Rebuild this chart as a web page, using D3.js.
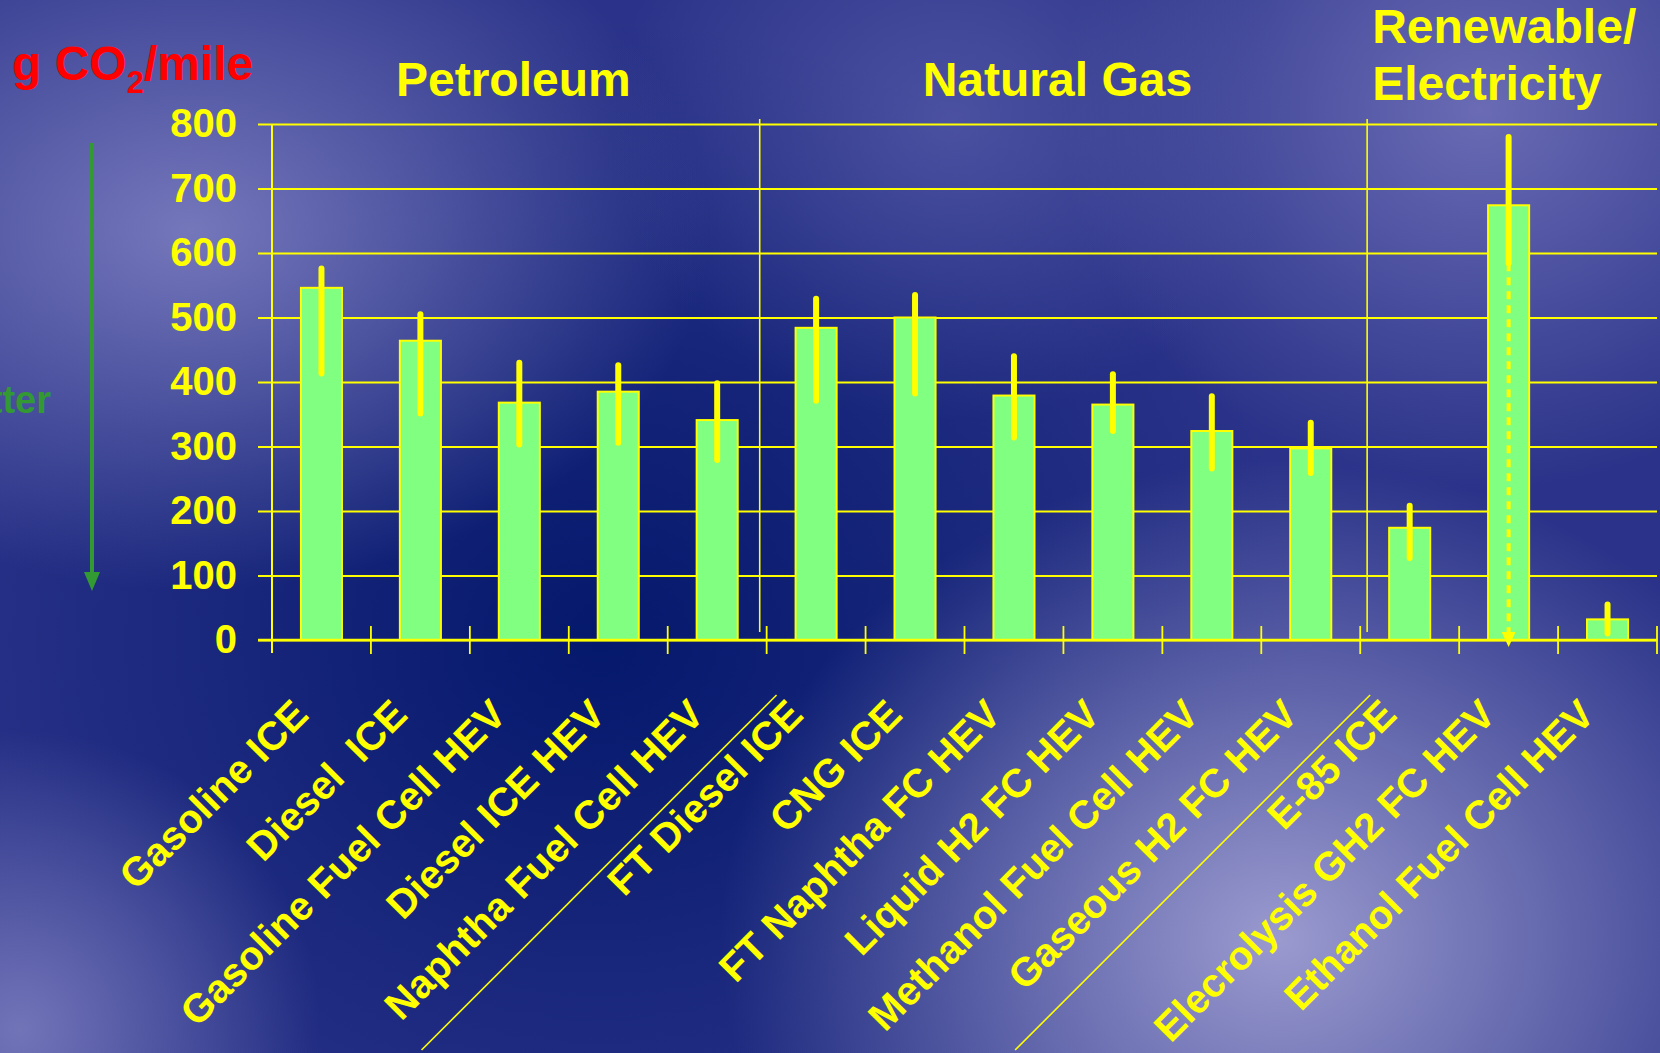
<!DOCTYPE html>
<html>
<head>
<meta charset="utf-8">
<script src="https://cdn.jsdelivr.net/npm/d3@7"></script>
<style>
  html, body { margin: 0; padding: 0; background: #2a3389; }
  svg { display: block; }
  text { font-family: "Liberation Sans", Arial, sans-serif; font-weight: bold; }
</style>
</head>
<body>
<svg id="chart" width="1660" height="1053"></svg>
<script>
// ---------------- DATA ----------------
const categories = [
  "Gasoline ICE", "Diesel  ICE", "Gasoline Fuel Cell HEV", "Diesel ICE HEV",
  "Naphtha Fuel Cell HEV", "FT Diesel ICE", "CNG ICE", "FT Naphtha FC HEV",
  "Liquid H2 FC HEV", "Methanol Fuel Cell HEV", "Gaseous H2 FC HEV", "E-85 ICE",
  "Elecrolysis GH2 FC HEV", "Ethanol Fuel Cell HEV"
];
const values  = [546, 464, 368, 385, 341, 484, 500, 379, 365, 324, 297, 174, 674, 32];
const errLow  = [413, 351, 303, 306, 279, 371, 382, 314, 324, 266, 259, 127, 584, 10];
const errHigh = [576, 505, 430, 426, 398, 529, 535, 440, 412, 378, 337, 208, 780, 55];
// dotted continuation of the error range down to zero (electrolysis)
const dottedExtension = [{ category: "Elecrolysis GH2 FC HEV", from: 584, to: 0 }];
const yTicks = [0, 100, 200, 300, 400, 500, 600, 700, 800];
const groups = [
  { name: ["Petroleum"], first: 0, last: 4 },
  { name: ["Natural Gas"], first: 5, last: 10 },
  { name: ["Renewable/", "Electricity"], first: 11, last: 13 }
];
// group divider positions, in category-band units
const dividers = [4.93, 11.07];
const diagonalStarts = [5.1, 11.1];
const yTitle = { main: "g CO", sub: "2", rest: "/mile" };
const sideNote = "Better";

// ---------------- LAYOUT ----------------
const W = 1660, H = 1053;
const x0 = 272, x1 = 1657, yTop = 124, yBase = 640;
const YEL = "#ffff00";

const svg = d3.select("#chart");
const defs = svg.append("defs");

// background
svg.append("rect").attr("width", W).attr("height", H).attr("fill", "#2a3389");
const blobs = [
  { cx: 600, cy: 640, rx: 700, ry: 620, c: "#04186c", o: 1 },
  { cx: 190, cy: 230, rx: 520, ry: 360, c: "#7577bb", o: 1 },
  { cx: 1480, cy: 110, rx: 420, ry: 380, c: "#6a6bb4", o: 1 },
  { cx: 1280, cy: 940, rx: 560, ry: 480, c: "#9a9acf", o: 1 },
  { cx: 20, cy: 1030, rx: 300, ry: 300, c: "#7274b8", o: 1 },
  { cx: 950, cy: 120, rx: 340, ry: 300, c: "#5a5eab", o: 0.7 }
];
blobs.forEach((b, i) => {
  const g = defs.append("radialGradient").attr("id", "bg" + i);
  g.append("stop").attr("offset", "0%").attr("stop-color", b.c).attr("stop-opacity", b.o);
  g.append("stop").attr("offset", "100%").attr("stop-color", b.c).attr("stop-opacity", 0);
  svg.append("ellipse").attr("cx", b.cx).attr("cy", b.cy).attr("rx", b.rx).attr("ry", b.ry)
    .attr("fill", `url(#bg${i})`);
});

// scales
const x = d3.scaleBand().domain(categories).range([x0, x1]).paddingInner(0.585).paddingOuter(0.2925);
const xu = d3.scaleLinear().domain([0, categories.length]).range([x0, x1]);
const y = d3.scaleLinear().domain([0, 800]).range([yBase, yTop]);
const cx = c => x(c) + x.bandwidth() / 2;

// gridlines + y ticks
const yAxis = d3.axisLeft(y).tickValues(yTicks).tickSize(-(x1 - x0)).tickPadding(35).tickSizeOuter(0);
const gy = svg.append("g").attr("transform", `translate(${x0},0)`).call(yAxis);
gy.select(".domain").remove();
gy.selectAll(".tick line").attr("stroke", YEL).attr("stroke-width", 2.2).attr("x1", -14);
gy.selectAll(".tick text").attr("fill", YEL).attr("font-size", 40)
  .attr("font-family", "'Liberation Sans', Arial, sans-serif").attr("font-weight", "bold")
  .attr("x", -35);

// y axis line
svg.append("line").attr("x1", x0).attr("x2", x0).attr("y1", yTop).attr("y2", yBase + 13)
  .attr("stroke", YEL).attr("stroke-width", 2);

// group dividers
svg.selectAll(".divider").data(dividers).enter().append("line")
  .attr("x1", d => xu(d)).attr("x2", d => xu(d)).attr("y1", yTop - 5).attr("y2", yBase - 8)
  .attr("stroke", YEL).attr("stroke-width", 1.6);

// bars
svg.selectAll(".bar").data(categories).enter().append("rect")
  .attr("x", c => x(c)).attr("width", x.bandwidth())
  .attr("y", (c, i) => y(values[i])).attr("height", (c, i) => y(0) - y(values[i]))
  .attr("fill", "#80ff80").attr("stroke", YEL).attr("stroke-width", 2);

// x axis with ticks at band boundaries
const boundaries = d3.range(0, categories.length + 1);
svg.append("line").attr("x1", x0 - 14).attr("x2", x1).attr("y1", yBase).attr("y2", yBase)
  .attr("stroke", YEL).attr("stroke-width", 2.4);
svg.selectAll(".xtick").data(boundaries.slice(1)).enter().append("line")
  .attr("x1", d => xu(d)).attr("x2", d => xu(d)).attr("y1", yBase - 14).attr("y2", yBase + 14)
  .attr("stroke", YEL).attr("stroke-width", 1.8);

// error bars
svg.selectAll(".err").data(categories).enter().append("line")
  .attr("x1", c => cx(c)).attr("x2", c => cx(c))
  .attr("y1", (c, i) => y(errHigh[i])).attr("y2", (c, i) => y(errLow[i]))
  .attr("stroke", YEL).attr("stroke-width", 6).attr("stroke-linecap", "round");

// dotted extension with arrow
dottedExtension.forEach(d => {
  const xc = cx(d.category);
  svg.append("line").attr("x1", xc).attr("x2", xc).attr("y1", y(d.from)).attr("y2", y(d.to) - 6)
    .attr("stroke", YEL).attr("stroke-width", 4).attr("stroke-dasharray", "8,6");
  svg.append("path")
    .attr("d", `M${xc - 7},${y(d.to) - 8} L${xc + 7},${y(d.to) - 8} L${xc},${y(d.to) + 7} Z`)
    .attr("fill", YEL);
});

// category labels
svg.selectAll(".xlab").data(categories).enter().append("text")
  .attr("transform", c => `translate(${cx(c) - 11},717) rotate(-45)`)
  .attr("text-anchor", "end").attr("fill", YEL).attr("font-size", 40)
  .style("white-space", "pre")
  .text(c => c);

// diagonal separators in label area
svg.selectAll(".diag").data(diagonalStarts).enter().append("line")
  .attr("x1", d => xu(d)).attr("y1", 695)
  .attr("x2", d => xu(d) - 355).attr("y2", 1050)
  .attr("stroke", YEL).attr("stroke-width", 1.6);

// group titles
groups.forEach((g, gi) => {
  if (gi < 2) {
    svg.append("text").attr("x", xu((g.first + g.last + 1) / 2) - 6).attr("y", 96)
      .attr("text-anchor", "middle").attr("fill", YEL).attr("font-size", 48).text(g.name[0]);
  } else {
    const t = svg.append("text").attr("x", xu(dividers[1]) + 5).attr("y", 43)
      .attr("fill", YEL).attr("font-size", 48);
    g.name.forEach((line, li) => {
      t.append("tspan").attr("x", xu(dividers[1]) + 5).attr("dy", li === 0 ? 0 : 57).text(line);
    });
  }
});

// y title
const tt = svg.append("text").attr("x", 12).attr("y", 80).attr("fill", "#ff0000").attr("font-size", 48);
tt.append("tspan").text(yTitle.main);
tt.append("tspan").attr("font-size", 31).attr("dy", 13).text(yTitle.sub);
tt.append("tspan").attr("dy", -13).text(yTitle.rest);

// side note and green arrow
svg.append("text").attr("x", 51).attr("y", 413).attr("text-anchor", "end")
  .attr("fill", "#339933").attr("font-size", 38).text(sideNote);
svg.append("line").attr("x1", 92).attr("x2", 92).attr("y1", 143).attr("y2", 575)
  .attr("stroke", "#339933").attr("stroke-width", 4);
svg.append("path").attr("d", "M84,572 L100,572 L92,591 Z").attr("fill", "#339933");
</script>
</body>
</html>
